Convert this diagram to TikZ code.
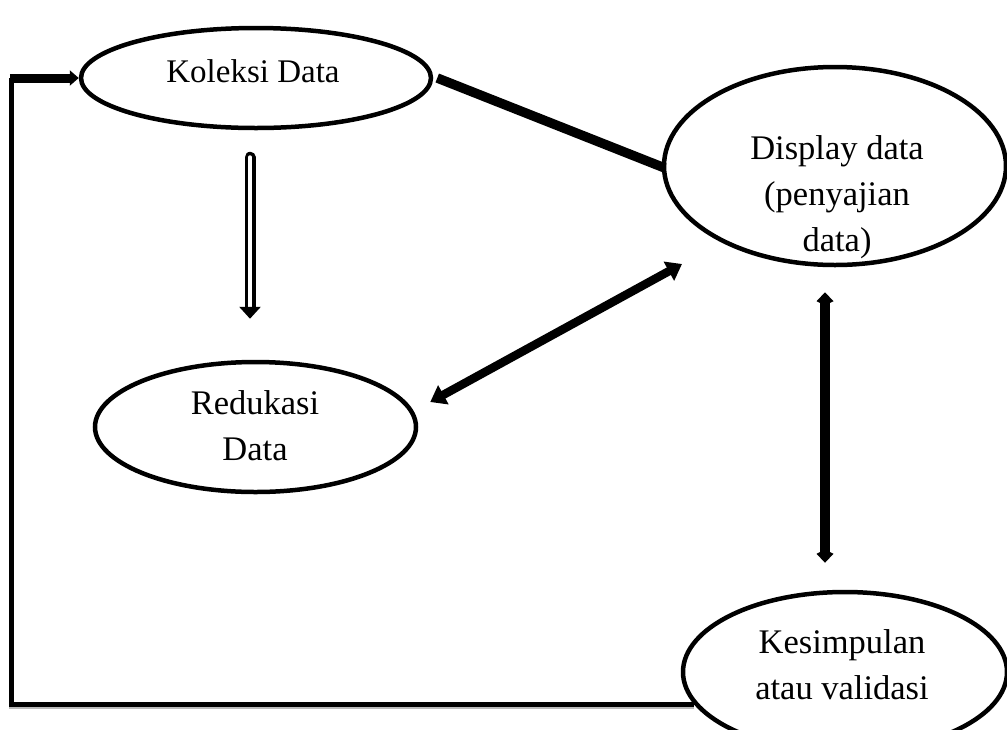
\documentclass[tikz,border=0pt]{standalone}
\usepackage{fontspec}
\setmainfont{Liberation Serif}
\usetikzlibrary{shapes.geometric, arrows.meta, calc}

\begin{document}
\begin{tikzpicture}[x=1pt, y=-1pt, >=Latex, line/.style={draw=black, line width=#1}]
    % Define styles for ovals and texts
    \tikzstyle{oval} = [draw, ellipse, fill=white, line width=4.5pt, inner sep=0pt]
    \tikzstyle{txt} = [align=center, inner sep=0pt, font=\fontsize{34.5}{46}\selectfont]

    \useasboundingbox (0,0) rectangle (1007,729);
    \clip (0,0) rectangle (1007,729);

    % Nodes placement
    \node [oval, minimum width=350pt, minimum height=100pt] (koleksi) at (256,78) {};
    \node [oval, minimum width=321pt, minimum height=130pt] (redukasi) at (255.5,427) {};
    \node [oval, minimum width=342pt, minimum height=198pt] (display) at (835,166) {};
    \node [oval, minimum width=324pt, minimum height=160pt] (kesimpulan) at (845,672) {};

    \node [txt, anchor=base] (koleksitext) at (253,82) {\fontsize{33}{46}\selectfont Koleksi Data};
    \node [txt] (redukasitext) at (255,426) {Redukasi\\Data};
    \node [txt] (displaytext) at (837,197) {Display data\\(penyajian\\data)};
    \node [txt] (kesimpulantext) at (842,665) {Kesimpulan\\atau validasi};

    % Draw edges
    \draw[line=3.5pt, double=white, double distance=4pt, line cap=round, -{Triangle[length=12pt,width=21pt]}]
        ($(koleksi.south)+(-6,27)$) -- ($(redukasi.north)+(-5.5,-41)$);
    \draw[line=9.5pt] ($(koleksi.east)+(4,0)$) -- ($(display.west)+(3,2)$);
    \draw[line=8.5pt, {Triangle[length=15pt,width=21pt]}-{Triangle[length=15pt,width=21pt]}]
        ($(redukasi.east)+(12,-25)$) -- ($(display.center)+(-153,98)$);
    \draw[line=10pt, {Kite[length=13pt,width=17pt,inset=4pt]}-{Kite[length=13pt,width=17pt,inset=4pt]}]
        ($(display.south)+(-10,25)$) -- ($(kesimpulan.north)+(-20,-27)$);

    % Feedback loop from kesimpulan back to koleksi
    \draw[line=5pt, preaction={draw=gray!55, line width=5pt, transform canvas={yshift=-2.5pt}}]
        ($(kesimpulan.west)+(13,32)$) -| ($(koleksi.west)+(-67,0)$);
    \draw[line=9pt, -{Triangle[length=9pt,width=15pt]}] ($(koleksi.west)+(-69,0)$) -- (koleksi.west);
\end{tikzpicture}
\end{document}
